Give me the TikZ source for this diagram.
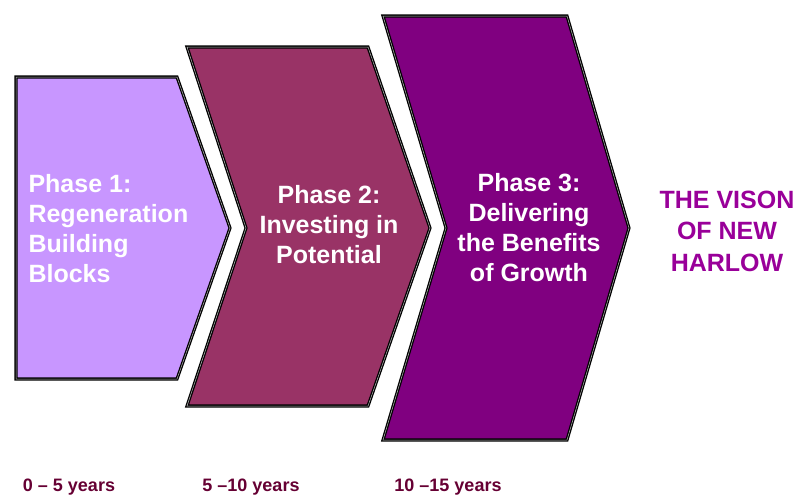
\documentclass[tikz,border=0pt]{standalone}
\usepackage{fontspec}
\setmainfont{Liberation Sans}
\usetikzlibrary{positioning}
\definecolor{phaseone}{RGB}{200,150,255}
\definecolor{phasetwo}{RGB}{153,51,102}
\definecolor{phasethree}{RGB}{128,0,128}
\definecolor{visioncol}{RGB}{153,0,153}
\definecolor{yearcol}{RGB}{102,0,51}
\tikzset{%
	% Specifications for style of arrows and texts:
	chevron/.style = {draw=black, line width=1.3pt, double=gray!55,
		double distance=0.5pt, line join=miter},
	phasetext/.style = {text=white, font=\fontsize{25}{30}\selectfont\bfseries},
	visiontext/.style = {text=visioncol, align=center,
		font=\fontsize{25}{31.5}\selectfont\bfseries},
	yeartext/.style = {text=yearcol, anchor=base,
		font=\fontsize{18}{21}\selectfont\bfseries},
}

\begin{document}
\begin{tikzpicture}[x=1pt, y=-1pt]
\useasboundingbox (0,0) rectangle (797,496);

%% Chevrons for the three phases
\draw[chevron, fill=phaseone] (16,77) -- (177,77) -- (230,228) -- (177,379) -- (16,379) -- cycle;
\draw[chevron, fill=phasetwo] (187,47) -- (368,47) -- (430,228) -- (368,406) -- (187,406) -- (246,228) -- cycle;
\draw[chevron, fill=phasethree] (383,16) -- (567,16) -- (629,228) -- (567,440) -- (383,440) -- (446,228) -- cycle;

%% Texts inside the chevrons
\node (phase1) [phasetext, align=left, anchor=west] at (25,229) {Phase 1:\\Regeneration\\Building\\Blocks};
\node (phase2) [phasetext, align=center] at (329,225) {Phase 2:\\Investing in\\Potential};
\node (phase3) [phasetext, align=center] at (529,228) {Phase 3:\\Delivering\\the Benefits\\of Growth};

\node (vision) [visiontext] at (727,231) {THE VISON\\OF NEW\\HARLOW};

%% Time spans below
\node (years1) [yeartext] at (69,491) {0 -- 5 years};
\node (years2) [yeartext] at (251,491) {5 --10 years};
\node (years3) [yeartext] at (448,491) {10 --15 years};
\end{tikzpicture}
\end{document}
